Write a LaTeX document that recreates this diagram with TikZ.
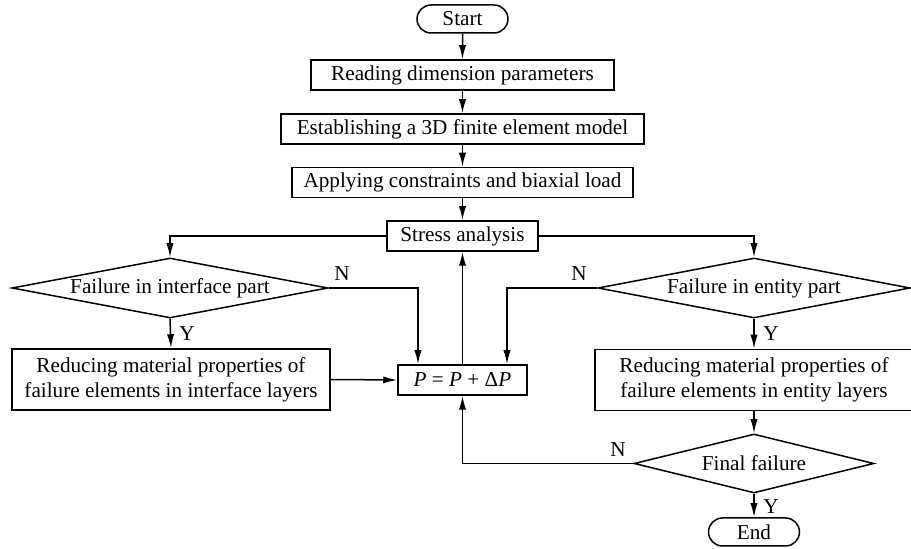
\documentclass[tikz,border=0pt]{standalone}
\usepackage{fontspec}
\setmainfont{Liberation Serif}
\usepackage{tikz}
\usetikzlibrary{shapes.geometric}
\usetikzlibrary{shapes.misc}
\usetikzlibrary{arrows.meta}

\tikzset{
  procbox/.style={rectangle,draw=black,line width=0.75pt,inner sep=0pt,minimum height=15pt,align=center},
  decide/.style={diamond,draw=black,line width=0.75pt,inner sep=0pt},
  terminal/.style={rounded rectangle,draw=black,line width=0.75pt,inner sep=0pt,minimum width=45.5pt,minimum height=14pt},
  arr/.style={line width=0.75pt,-{Latex[length=7pt,width=3.6pt]}},
  yn/.style={font=\fontsize{10.6}{12}\selectfont,inner sep=0pt}
}

\begin{document}
\begin{tikzpicture}[x=0.5pt,y=-0.5pt,font=\fontsize{10.6}{12.6}\selectfont]
\useasboundingbox (0,0) rectangle (911,549);

\node[terminal] (start) at (462.5,19) {Start};
\node[procbox,minimum width=151.5pt] (read) at (462.5,75) {Reading dimension parameters};
\node[procbox,minimum width=181.5pt] (model) at (462.5,129) {Establishing a 3D finite element model};
\node[procbox,minimum width=170.5pt] (load) at (462.5,182.5) {Applying constraints and biaxial load};
\node[procbox,minimum width=75.5pt] (stress) at (462.5,236) {Stress analysis};

\node[decide,minimum width=158pt,minimum height=30pt] (ifail) at (170,288) {\makebox[0pt]{Failure in interface part}};
\node[decide,minimum width=156pt,minimum height=30pt] (efail) at (754,288) {\makebox[0pt]{Failure in entity part}};

\node[procbox,minimum width=159pt,minimum height=30.5pt] (ireduce) at (171,379.5) {Reducing material properties of\\failure elements in interface layers};
\node[procbox,minimum width=159pt,minimum height=30.5pt] (ereduce) at (754,380) {Reducing material properties of\\failure elements in entity layers};
\node[procbox,minimum width=64.5pt] (incr) at (462.5,380) {\textit{P} = \textit{P} + Δ\textit{P}};

\node[decide,minimum width=120pt,minimum height=29.5pt] (final) at (754,463.5) {\makebox[0pt]{Final failure}};
\node[terminal] (stop) at (754,532) {End};

% main line
\draw[arr] (start) -- (read);
\draw[arr] (read) -- (model);
\draw[arr] (model) -- (load);
\draw[arr] (load) -- (stress);

% branches
\draw[arr] (stress.west) -| (ifail.north);
\draw[arr] (stress.east) -| (efail.north);
\draw[arr] (ifail.south) -- (ireduce.north);
\draw[arr] (efail.south) -- (ereduce.north);
\draw[arr] (ifail.east) -| ([xshift=-22.25pt]incr.north);
\draw[arr] (efail.west) -| ([xshift=22.25pt]incr.north);
\draw[arr] (ireduce.east) -- (incr.west);
\draw[arr] (incr.north) -- (stress.south);
\draw[arr] (ereduce.south) -- (final.north);
\draw[arr] (final.south) -- (stop.north);
\draw[arr] (final.west) -| (incr.south);

% labels
\node[yn] (n1) at (342,274) {N};
\node[yn] (n2) at (579,274) {N};
\node[yn] (n3) at (618,450) {N};
\node[yn] (y1) at (187,334) {Y};
\node[yn] (y2) at (771,334) {Y};
\node[yn] (y3) at (771,507) {Y};

\end{tikzpicture}
\end{document}
